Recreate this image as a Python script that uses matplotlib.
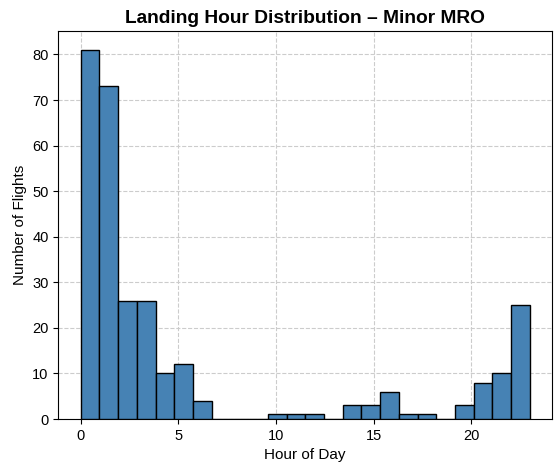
import matplotlib
matplotlib.use("Agg")
import matplotlib.pyplot as plt
import numpy as np

plt.rcParams['font.family'] = ['Liberation Sans', 'DejaVu Sans']

# Hour of day and number of flights per hour bin
hours = np.arange(24)
counts = [81, 73, 26, 26, 10, 12, 4, 0, 0, 0, 1, 1, 1, 0, 3, 3, 6, 1, 1, 0, 3, 8, 10, 25]

fig, ax = plt.subplots(figsize=(5.55, 4.63), dpi=100)
ax.hist(hours, bins=24, range=(0, 23), weights=counts,
        color='#4682B4', edgecolor='black', linewidth=1.0, zorder=3)

ax.set_title('Landing Hour Distribution \u2013 Minor MRO', fontsize=13.8, fontweight='bold')
ax.set_xlabel('Hour of Day', fontsize=11)
ax.set_ylabel('Number of Flights', fontsize=11)
ax.tick_params(labelsize=10.5)
ax.grid(True, linestyle='--', color='#cccccc', linewidth=0.8, zorder=0)

fig.subplots_adjust(left=0.105, right=0.995, top=0.932, bottom=0.095)
fig.savefig('out.png', dpi=100)
